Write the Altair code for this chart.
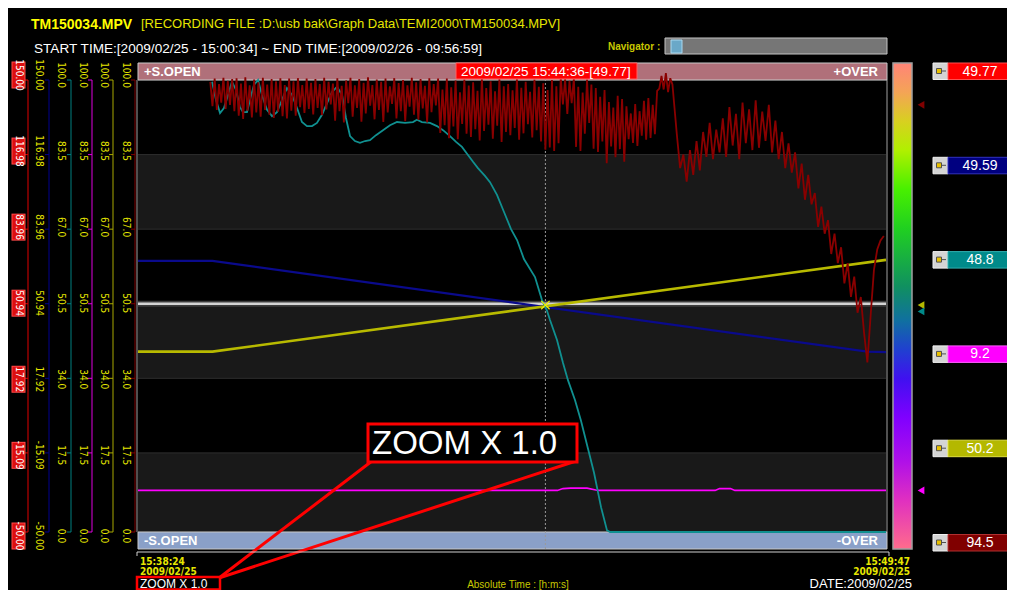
import altair as alt
import pandas as pd

# ---------------- data ----------------
file_name = "TM150034.MPV"
file_path = "[RECORDING FILE :D:\\usb bak\\Graph Data\\TEMI2000\\TM150034.MPV]"
period_text = "START TIME:[2009/02/25 - 15:00:34] ~ END TIME:[2009/02/26 - 09:56:59]"
cursor_text = "2009/02/25 15:44:36-[49.77]"
x_times = ["15:38:24", "15:49:47"]
x_dates = ["2009/02/25", "2009/02/25"]
zoom_text = "ZOOM X 1.0"
date_text = "DATE:2009/02/25"
time_mode = "Absolute Time : [h:m:s]"

t_span = [0, 683]          # seconds after 15:38:24 (15:49:47 = 683 s)
cursor_t = [372]           # 15:44:36

tick_values = [100.0, 83.5, 67.0, 50.5, 34.0, 17.5, 0.0]
wide_labels = ["150.00", "116.98", "83.96", "50.94", "17.92", "-15.09", "-50.00"]
pct_labels = ["100.0", "83.5", "67.0", "50.5", "34.0", "17.5", "0.0"]
band_lo = [67.0, 34.0, 0.0]
band_hi = [83.5, 50.5, 17.5]
center_level = [50.5]

channels = ["CH1", "CH2", "CH3", "CH4", "CH5", "CH6"]
channel_values = ["49.77", "49.59", "48.8", "9.2", "50.2", "94.5"]
marker_channels = ["CH6", "CH5", "CH3", "CH4"]
marker_values = [94.5, 50.2, 48.8, 9.2]

navy_t = [0, 68, 666, 683]
navy_v = [70.0, 70.0, 29.8, 29.6]          # on the -50..150 scale
yellow_t = [0, 68, 683]
yellow_v = [39.9, 39.9, 60.2]
magenta_t = [0, 383, 388, 395, 410, 418, 421, 527, 531, 541, 545, 683]
magenta_v = [9.2, 9.2, 9.6, 9.7, 9.7, 9.3, 9.2, 9.2, 9.6, 9.6, 9.2, 9.2]
teal_t = [67.6, 71.2, 74.9, 78.5, 82.2, 85.8, 89.5, 93.1, 95.9, 99.5, 102.3, 105.9,
          109.6, 113.2, 117.8, 122.4, 126.9, 131.5, 136.0, 140.6, 145.2, 149.7, 154.3,
          158.9, 163.4, 168.0, 172.6, 177.1, 181.7, 186.3, 189.9, 193.6, 198.1, 202.7,
          207.3, 211.8, 217.3, 223.7, 230.1, 236.5, 243.8, 251.1, 254.7, 259.3, 266.6,
          273.0, 278.5, 284.9, 290.4, 295.8, 301.3, 305.9, 310.4, 316.8, 321.4, 327.8,
          334.2, 340.6, 346.1, 352.4, 362.5, 368.9, 373.4, 376.2, 382.6, 388.1, 392.6,
          399.0, 404.5, 410.9, 416.4, 422.8, 428.2, 431.0, 683.0]
teal_v = [99.6, 95.6, 92.7, 93.8, 96.7, 99.6, 97.8, 94.0, 92.9, 92.9, 95.6, 98.9,
          100.0, 96.7, 93.4, 92.0, 92.9, 95.6, 98.2, 96.7, 93.8, 90.7, 89.8,
          89.8, 90.5, 92.3, 94.9, 97.3, 98.5, 96.7, 91.6, 87.6, 86.5, 86.1,
          86.5, 86.7, 87.8, 88.9, 90.0, 90.7, 90.5, 90.7, 91.2, 90.7, 90.5,
          89.8, 88.9, 87.6, 86.3, 85.2, 83.4, 81.9, 80.5, 78.8, 77.4, 74.6,
          70.8, 67.0, 64.6, 60.4, 56.4, 51.3, 49.0, 46.9, 42.5, 37.4, 33.6,
          29.2, 24.6, 18.4, 13.1, 5.5, 0.4, 0.0, 0.0]
# dark-red channel, 2-second samples from 15:39:30 (t=66) to t=488
red_fast_v = ([99.6, 94.2, 100.3, 93.4, 99.1, 95.0, 100.5, 93.6, 99.8, 94.5, 100.2, 93.1]
              + [100.4, 92.1, 99.2, 91.4, 100.6, 93.2, 98.8, 91.7, 100.1, 92.8, 99.5, 91.9,
                 100.5, 93.4, 99.0, 92.3, 100.2, 91.6, 99.7, 93.0, 100.4, 92.0, 98.9, 91.5, 100.3]
              + [93.2, 99.7, 92.1, 100.4, 94.0, 98.9, 92.7, 100.3, 93.6, 99.4, 92.4, 100.2,
                 93.8, 99.1, 92.2, 100.5, 93.5, 99.6]
              + [94.6, 99.2, 91.0, 100.4, 93.1, 98.7, 90.6, 99.9, 94.9, 100.5,
                 91.9, 98.8, 93.8, 100.2, 90.8, 99.4, 92.6, 100.6, 94.3, 98.9,
                 91.3, 100.1, 93.4, 99.6, 90.7, 100.3, 92.8, 98.6, 94.7, 100.4,
                 91.5, 99.3, 93.1, 100.0, 90.9, 98.8, 94.1, 100.5, 92.3, 99.5,
                 91.2, 100.2, 93.7, 98.7, 90.6, 100.4, 92.9, 99.1, 94.4, 100.3]
              + [88.3, 97.9, 90.0, 100.3, 87.1, 98.4, 89.7, 99.9, 86.9, 97.3,
                 90.3, 100.1, 88.1, 98.8, 87.4, 99.5, 89.1, 97.6, 86.6, 100.5,
                 88.7, 98.2, 90.1, 99.7, 87.0, 97.5, 89.9, 100.2, 86.3, 98.6,
                 88.5, 99.1, 87.8, 97.7, 89.4, 100.4, 86.8, 98.3, 88.2, 99.6,
                 90.2, 97.4, 87.3, 100.1, 88.9, 98.5, 86.4, 99.3, 84.6, 97.8,
                 85.1, 100.0, 84.3, 98.6, 86.0]
              + [100.6, 94.6, 100.2, 92.5, 99.8, 94.9, 100.4, 85.2, 98.5, 84.3, 97.2, 88.1,
                 100.1, 90.5, 99.0, 84.8, 98.2]
              + [84.1, 96.3, 86.4, 97.8, 81.6, 95.1, 85.3, 93.9, 82.9, 96.5, 84.7, 95.8,
                 81.9, 94.2, 86.9]
              + [92.6, 86.1, 94.7, 85.4, 93.1, 87.7, 95.4, 86.8, 96.0, 87.2, 94.5, 88.0, 97.6]
              + [98.1, 100.9, 97.9, 101.5, 97.3, 100.4, 99.0])
# dark-red channel, 3-second samples from t=492 to t=681
red_slow_v = ([88.0, 80.5, 83.5]
              + [77.5, 84.5, 79.0, 86.5, 80.0, 88.5, 83.0, 90.5, 82.5, 89.0, 84.0]
              + [91.5, 83.0, 94.0, 85.5, 92.5, 82.5, 95.0, 86.0, 93.5, 84.5]
              + [95.5, 85.0, 93.0, 86.5, 94.5, 84.0, 91.0, 82.5]
              + [88.5, 80.5, 86.0, 79.5, 84.0]
              + [76.0, 81.5, 73.5, 79.0, 72.5]
              + [75.0, 67.5, 72.0, 66.0]
              + [69.0, 61.5, 66.0, 59.5]
              + [63.0, 55.0, 59.5, 52.0]
              + [56.5, 48.5, 52.0]
              + [44.0, 37.5]
              + [48.0, 58.0, 62.5, 64.5, 65.5])
red_t = [66 + 2 * i for i in range(len(red_fast_v))] + [492 + 3 * i for i in range(len(red_slow_v))]
red_v = red_fast_v + red_slow_v

# ---------------- styling ----------------
OFF = 8
NARROW = "Liberation Sans Narrow, DejaVu Sans Condensed, Arial Narrow, sans-serif"
SANS = "Liberation Sans, Arial, sans-serif"
YT = "#e6e600"
CH_COLORS = ["#ff0000", "#000080", "#008a8a", "#ff00ff", "#b4b800", "#800000"]
CH_BORDERS = ["#ff5050", "#3030c0", "#30b0b0", "#ff60ff", "#e0e040", "#b03030"]

XS = alt.Scale(domain=t_span, range=[138 - OFF, 886 - OFF], nice=False, zero=False)
PCT = alt.Scale(domain=[0, 100], range=[532 - OFF, 80 - OFF], nice=False, zero=False)
WIDE = alt.Scale(domain=[-50, 150], range=[532 - OFF, 80 - OFF], nice=False, zero=False)
LAB = alt.Scale(domain=[0, 100], range=[536 - OFF, 75 - OFF], nice=False, zero=False)

one = pd.DataFrame({"k": [0]})


def rect(x0, y0, x1, y1, **kw):
    return alt.Chart(one).mark_rect(**kw).encode(
        x=alt.value(x0 - OFF), x2=alt.value(x1 - OFF),
        y=alt.value(y0 - OFF), y2=alt.value(y1 - OFF))


def seg(x0, y0, x1, y1, **kw):
    return alt.Chart(one).mark_rule(**kw).encode(
        x=alt.value(x0 - OFF), x2=alt.value(x1 - OFF),
        y=alt.value(y0 - OFF), y2=alt.value(y1 - OFF))


def label(x, y, s, **kw):
    kw.setdefault("baseline", "middle")
    kw.setdefault("align", "left")
    kw.setdefault("font", SANS)
    return alt.Chart(one).mark_text(**kw).encode(
        x=alt.value(x - OFF), y=alt.value(y - OFF), text=alt.value(s))


def series(t, v, color, width, scale):
    df = pd.DataFrame({"t": t, "v": v})
    return alt.Chart(df).mark_line(color=color, strokeWidth=width).encode(
        x=alt.X("t:Q", scale=XS, axis=None),
        y=alt.Y("v:Q", scale=scale, axis=None))


layers = []

# header
layers.append(label(31, 25, file_name, color="#ffff00", fontSize=14, fontWeight="bold"))
layers.append(label(141, 24, file_path, color=YT, fontSize=13))
layers.append(label(34, 49, period_text, color="white", fontSize=13.6))
layers.append(label(608, 47, "Navigator :", color="#c8c800", fontSize=10, fontWeight="bold"))
layers.append(rect(665, 38, 887, 54, fill="#767676", stroke="#c4c4c4", strokeWidth=1))
layers.append(rect(671, 40, 682, 53, fill="#6aa8c8", stroke="#a8d8f0", strokeWidth=1))

# plot background bands and grid
band_df = pd.DataFrame({"lo": band_lo, "hi": band_hi})
layers.append(alt.Chart(band_df).mark_rect(color="#191919").encode(
    x=alt.value(138 - OFF), x2=alt.value(886 - OFF),
    y=alt.Y("hi:Q", scale=PCT, axis=None), y2="lo:Q"))
tick_df = pd.DataFrame({"pos": tick_values, "wide": wide_labels, "pct": pct_labels})
layers.append(alt.Chart(tick_df).mark_rule(color="#2e2e2e", strokeWidth=1).encode(
    x=alt.value(138 - OFF), x2=alt.value(886 - OFF),
    y=alt.Y("pos:Q", scale=PCT, axis=None)))
center_df = pd.DataFrame({"pos": center_level})
layers.append(alt.Chart(center_df).mark_rule(color="#3c3c3c", strokeWidth=6).encode(
    x=alt.value(138 - OFF), x2=alt.value(886 - OFF), y=alt.Y("pos:Q", scale=PCT, axis=None)))
layers.append(alt.Chart(center_df).mark_rule(color="#d4d4d4", strokeWidth=2.5).encode(
    x=alt.value(138 - OFF), x2=alt.value(886 - OFF), y=alt.Y("pos:Q", scale=PCT, axis=None)))

# plot frame and status bands
layers.append(seg(137, 80, 137, 532, color="#a0a0a0", strokeWidth=1))
layers.append(seg(887, 80, 887, 532, color="#a0a0a0", strokeWidth=1))
layers.append(rect(138, 63, 887, 80, fill="#b0707a", stroke="#c8c8c8", strokeWidth=1))
layers.append(rect(138, 532, 887, 549, fill="#8aa0c8", stroke="#c8c8c8", strokeWidth=1))
layers.append(label(144, 71.5, "+S.OPEN", color="white", fontSize=13, fontWeight="bold"))
layers.append(label(878, 71.5, "+OVER", color="white", fontSize=13, fontWeight="bold", align="right"))
layers.append(label(144, 541, "-S.OPEN", color="white", fontSize=13, fontWeight="bold"))
layers.append(label(878, 541, "-OVER", color="white", fontSize=13, fontWeight="bold", align="right"))

# cursor
cur_df = pd.DataFrame({"t": cursor_t})
layers.append(alt.Chart(cur_df).mark_rule(color="#9a9a9a", strokeDash=[2, 2], strokeWidth=1).encode(
    x=alt.X("t:Q", scale=XS, axis=None), y=alt.value(63 - OFF), y2=alt.value(549 - OFF)))

# data series
layers.append(series(magenta_t, magenta_v, "#ff00ff", 1.6, PCT))
layers.append(series(navy_t, navy_v, "#0a0a8c", 2.2, WIDE))
layers.append(series(yellow_t, yellow_v, "#b8ba00", 2.6, PCT))
layers.append(series(teal_t, teal_v, "#109090", 1.8, PCT))
layers.append(series(red_t, red_v, "#8a0000", 1.8, PCT))

cross_df = pd.DataFrame({"t": cursor_t, "v": [50.2]})
layers.append(alt.Chart(cross_df).mark_point(
    shape="M-1,-1L1,1M-1,1L1,-1", size=70, color="#f0f000", strokeWidth=1.2, filled=False, opacity=1).encode(
    x=alt.X("t:Q", scale=XS, axis=None), y=alt.Y("v:Q", scale=PCT, axis=None)))

# cursor label in top band
layers.append(rect(456, 63, 637, 79, fill="#ff0000", stroke="#ff6060", strokeWidth=1))
layers.append(label(461, 71.5, cursor_text, color="white", fontSize=13.5))

# left axes
axes_cfg = [
    (18.5, 28, "#e00000", "wide", "white"),
    (38.5, 49, "#000090", "wide", YT),
    (61, 71, "#008080", "pct", YT),
    (82.5, 92, "#e000e0", "pct", YT),
    (104, 113, "#a8a800", "pct", YT),
    (125.5, 135, "#800000", "pct", YT),
]
span_df = pd.DataFrame({"top": [tick_values[0]], "bot": [tick_values[-1]]})
for i, (xt, xl, lc, field, tc) in enumerate(axes_cfg):
    layers.append(alt.Chart(span_df).mark_rule(color=lc, strokeWidth=1).encode(
        x=alt.value(xl - OFF), y=alt.Y("top:Q", scale=PCT, axis=None), y2="bot:Q"))
    layers.append(alt.Chart(tick_df).mark_rule(color=lc, strokeWidth=1).encode(
        x=alt.value(xl - 4 - OFF), x2=alt.value(xl - OFF), y=alt.Y("pos:Q", scale=PCT, axis=None)))
    if i == 0:
        layers.append(alt.Chart(tick_df).mark_tick(
            orient="vertical", size=27, thickness=14, color="#ff4a4a", opacity=1).encode(
            x=alt.value(xt - OFF), y=alt.Y("pos:Q", scale=LAB, axis=None)))
        layers.append(alt.Chart(tick_df).mark_tick(
            orient="vertical", size=25, thickness=12, color="#dc0f0f", opacity=1).encode(
            x=alt.value(xt - OFF), y=alt.Y("pos:Q", scale=LAB, axis=None)))
    layers.append(alt.Chart(tick_df).mark_text(
        angle=90, color=tc, fontSize=10, font=NARROW, baseline="middle", align="center").encode(
        x=alt.value(xt - OFF), y=alt.Y("pos:Q", scale=LAB, axis=None), text=f"{field}:N"))

# colour bar
grad = alt.LinearGradient(
    gradient="linear", x1=0, x2=0, y1=0, y2=1,
    stops=[alt.GradientStop(offset=0.0, color="#ff8478"),
           alt.GradientStop(offset=0.06, color="#f4a456"),
           alt.GradientStop(offset=0.12, color="#d8d020"),
           alt.GradientStop(offset=0.18, color="#b0f000"),
           alt.GradientStop(offset=0.26, color="#48f000"),
           alt.GradientStop(offset=0.34, color="#20d020"),
           alt.GradientStop(offset=0.46, color="#109060"),
           alt.GradientStop(offset=0.53, color="#1070a0"),
           alt.GradientStop(offset=0.59, color="#2040d0"),
           alt.GradientStop(offset=0.65, color="#4010f0"),
           alt.GradientStop(offset=0.73, color="#8000ff"),
           alt.GradientStop(offset=0.82, color="#b010e8"),
           alt.GradientStop(offset=0.90, color="#e030c0"),
           alt.GradientStop(offset=1.0, color="#ff6c8c")])
layers.append(rect(893, 63, 912, 549, fill=grad, stroke="#a0a0a0", strokeWidth=1.5))

marker_df = pd.DataFrame({"v": marker_values, "c": marker_channels})
layers.append(alt.Chart(marker_df).mark_point(shape="triangle-left", filled=True, size=60, opacity=1).encode(
    x=alt.value(921 - OFF), y=alt.Y("v:Q", scale=PCT, axis=None),
    color=alt.Color("c:N", scale=alt.Scale(domain=channels, range=CH_COLORS), legend=None)))

# channel value boxes
for i, (val, col, bcol) in enumerate(zip(channel_values, CH_COLORS, CH_BORDERS)):
    top = 63 + i * 94.3
    layers.append(rect(933, top, 948, top + 16.5, fill="#d4d4d4", stroke="#f0f0f0", strokeWidth=1))
    layers.append(rect(936.5, top + 5.5, 941.5, top + 10.5, fill="#e8c000", stroke="#505050", strokeWidth=1))
    layers.append(seg(942, top + 8, 946, top + 8, color="#505050", strokeWidth=1))
    layers.append(rect(948, top, 1013, top + 16.5, fill=col, stroke=bcol, strokeWidth=1))
    layers.append(label(980, top + 8.5, val, color="white", fontSize=14, align="center"))

# big zoom annotation
layers.append(seg(372, 461, 219, 578, color="#ff0000", strokeWidth=3))
layers.append(seg(576, 461, 219, 578, color="#ff0000", strokeWidth=3))
layers.append(rect(368, 424, 577, 462, fill="black", stroke="#ff0000", strokeWidth=3))
layers.append(label(372, 444, zoom_text, color="white", fontSize=33))

# bottom axis
layers.append(seg(137, 552, 889, 552, color="#d0d0d0", strokeWidth=1))
layers.append(seg(137, 552, 137, 556, color="#d0d0d0", strokeWidth=1))
layers.append(seg(889, 552, 889, 556, color="#d0d0d0", strokeWidth=1))
end_df = pd.DataFrame({"t": t_span, "time": x_times, "date": x_dates})
for idx, (al, dx) in enumerate([("left", 2), ("right", 24)]):
    sub = end_df.iloc[[idx]]
    layers.append(alt.Chart(sub).mark_text(
        align=al, dx=dx, color=YT, fontSize=10, font=NARROW, fontWeight="bold", baseline="middle").encode(
        x=alt.X("t:Q", scale=XS, axis=None), y=alt.value(561.5 - OFF), text="time:N"))
    layers.append(alt.Chart(sub).mark_text(
        align=al, dx=dx, color=YT, fontSize=10, font=NARROW, fontWeight="bold", baseline="middle").encode(
        x=alt.X("t:Q", scale=XS, axis=None), y=alt.value(572 - OFF), text="date:N"))

layers.append(rect(137, 577, 220, 589.5, fill="black", stroke="#ff0000", strokeWidth=2.5))
layers.append(label(140, 583.5, zoom_text, color="white", fontSize=12))
layers.append(label(518, 585, time_mode, color="#c8c800", fontSize=10, align="center"))
layers.append(label(912, 583.5, date_text, color="white", fontSize=13, align="right"))

chart = alt.layer(*layers).resolve_scale(x="independent", y="independent", color="independent").properties(
    width=999, height=582, background="#000000", padding=0,
    autosize=alt.AutoSizeParams(type="none")
).configure_view(stroke=None)

chart.save("out.html", embed_options={"renderer": "svg", "actions": False})
